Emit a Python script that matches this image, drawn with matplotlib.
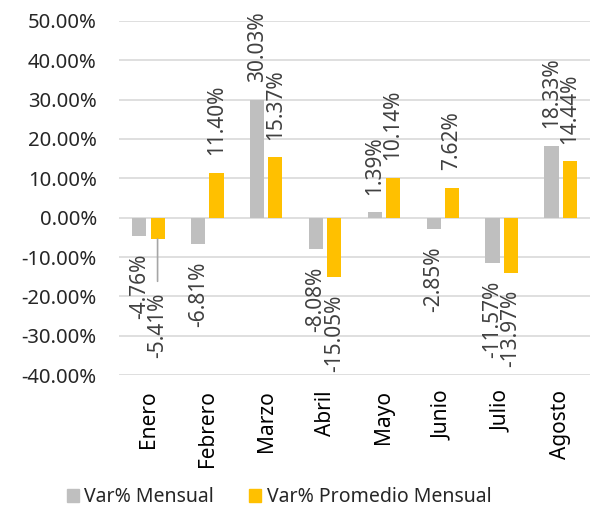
import matplotlib
matplotlib.use("Agg")
import matplotlib.pyplot as plt
import matplotlib.patches as mpatches
import numpy as np

plt.rcParams['font.family'] = ['Noto Sans', 'DejaVu Sans']

meses = ["Enero", "Febrero", "Marzo", "Abril", "Mayo", "Junio", "Julio", "Agosto"]
var_mensual = [-4.76, -6.81, 30.03, -8.08, 1.39, -2.85, -11.57, 18.33]
var_promedio = [-5.41, 11.40, 15.37, -15.05, 10.14, 7.62, -13.97, 14.44]
series_names = ["Var% Mensual", "Var% Promedio Mensual"]
yticks = [-40, -30, -20, -10, 0, 10, 20, 30, 40, 50]

gray = '#BFBFBF'
gold = '#FFC000'
label_color = '#404040'
fs = 15

fig = plt.figure(figsize=(5.9, 5.11), dpi=100)
ax = fig.add_axes([0.2017, 0.266, 0.7983, 0.693])

x = np.arange(len(meses))
w = 0.24
off = 0.155

bars1 = ax.bar(x - off, var_mensual, w, color=gray, zorder=3)
bars2 = ax.bar(x + off, var_promedio, w, color=gold, zorder=3)

ax.set_ylim(-40, 50)
ax.set_xlim(-0.5, len(meses) - 0.5)
ax.set_yticks(yticks)
ax.set_yticklabels([f"{t:.2f}%" for t in yticks], fontsize=14.6, color='#262626')
ax.yaxis.grid(True, color='#D9D9D9', linewidth=1.2, zorder=0)
ax.set_xticks(x)
ax.set_xticklabels(meses, rotation=90, fontsize=fs, color='#000000', va='top', ha='center')
ax.tick_params(axis='both', length=0)
ax.tick_params(axis='y', pad=16)
ax.tick_params(axis='x', pad=11)
for s in ax.spines.values():
    s.set_visible(False)


def add_labels(xs, vals, shifts=None):
    for i, (xi, v) in enumerate(zip(xs, vals)):
        extra = shifts.get(i, 0) if shifts else 0
        sign = 1 if v >= 0 else -1
        dy = sign * (12.5 + extra)
        kw = {}
        if extra:
            kw['arrowprops'] = dict(arrowstyle='-', color='#A6A6A6', lw=1.2,
                                    shrinkA=6, shrinkB=0)
        ax.annotate(f"{v:.2f}%", xy=(xi, v), xytext=(0, dy), textcoords='offset points',
                    rotation=90, ha='center', va='bottom' if v >= 0 else 'top',
                    fontsize=fs, color=label_color, zorder=4, **kw)


add_labels(x - off, var_mensual)
add_labels(x + off, var_promedio, shifts={0: 26})

handles = [mpatches.Patch(color=gray, label=series_names[0]),
           mpatches.Patch(color=gold, label=series_names[1])]
fig.legend(handles=handles, loc='center', bbox_to_anchor=(0.473, 0.027), ncol=2,
           frameon=False, fontsize=14, handlelength=0.6, handleheight=0.6,
           handletextpad=0.3, columnspacing=1.8, labelcolor='#262626')

fig.savefig("out.png", dpi=100)
